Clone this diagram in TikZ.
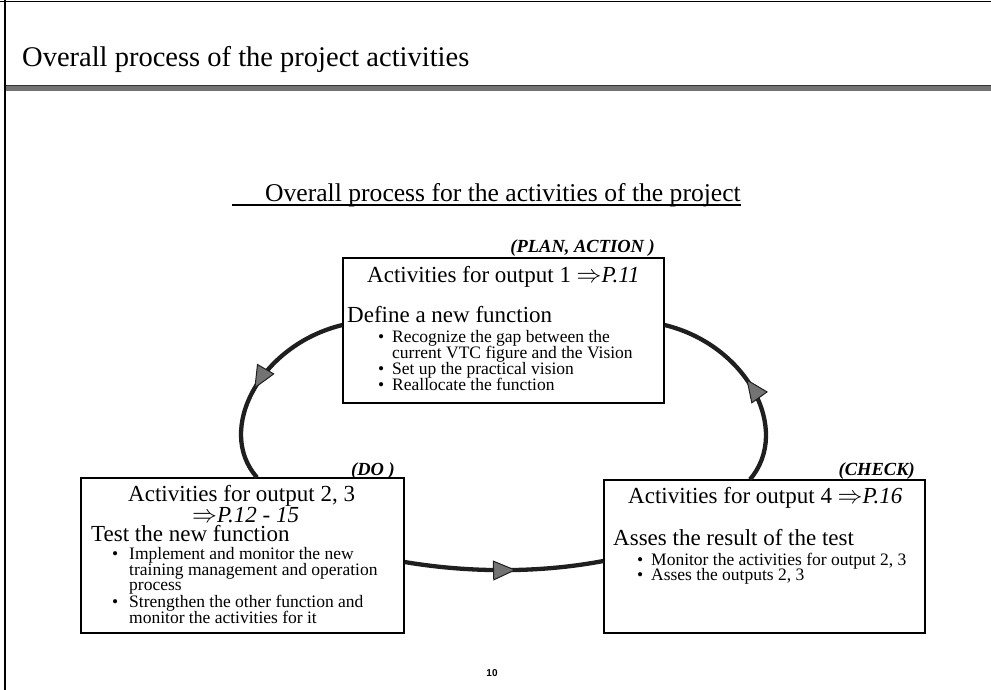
\documentclass[tikz,border=0pt]{standalone}
\usepackage{fontspec}
\setmainfont{Liberation Serif}
\newfontfamily\pagefont{Liberation Sans}
\usetikzlibrary{decorations.markings,arrows.meta,calc}

\begin{document}
\begin{tikzpicture}[x=1pt,y=-1pt,
  box/.style={draw=black,line width=1.2pt,fill=white,inner sep=0pt},
  txt/.style={inner sep=0pt,anchor=base west},
  hd/.style={txt,font=\fontsize{23}{23}\selectfont},
  item/.style={txt,font=\fontsize{17.5}{17.5}\selectfont},
  tag/.style={inner sep=0pt,anchor=base east,font=\fontsize{18.5}{18.5}\selectfont\bfseries\itshape},
  cyc/.style={line width=4.3pt,draw=black!88,postaction={decorate},
    decoration={markings,mark=at position #1 with {\arrow{Triangle[length=23pt,width=20pt,fill=black!55,line width=1pt]}}}}
]
\useasboundingbox (0,0) rectangle (991,690);

% slide frame and title band
\draw[line width=1.5pt] (0,1.5) -- (991,1.5);
\draw[line width=2.5pt] (5,0) -- (5,690);
\fill[black!55] (6,85) rectangle (991,91);
\draw[black!80,line width=0.8pt] (6,85) -- (991,85);
\node[txt,font=\fontsize{28.5}{28.5}\selectfont] (title) at (22,67) {Overall process of the project activities};

% subtitle
\node[txt,font=\fontsize{25.6}{25.6}\selectfont] (sub) at (265,201) {Overall process for the activities of the project};
\draw[line width=1.1pt] (232,205) -- (sub.base east |- 0,205);

% boxes
\node[box,minimum width=321pt,minimum height=145pt] (plan) at (503.5,330.5) {};
\node[box,minimum width=323pt,minimum height=155pt] (do) at (242.5,555.5) {};
\node[box,minimum width=321pt,minimum height=153pt] (check) at (764.5,556.5) {};

% cycle connectors
\draw[cyc=0.54] ($(plan.west)+(0,-5.5)$) .. controls (260,345) and (215,430) .. ($(do.north)+(14.5,0)$);
\draw[cyc=0.56] ($(do.east)+(0,6.5)$) .. controls (470,573) and (540,573) .. ($(check.west)+(0,4.5)$);
\draw[cyc=0.52] ($(check.north)+(-14.5,0)$) .. controls (792,430) and (747,345) .. ($(plan.east)+(0,-5.5)$);

% PLAN / ACTION box
\node[tag] (plantag) at (655,252) {(PLAN, ACTION )};
\node[hd] (planh) at (367,282) {Activities for output 1 $\Rightarrow$\textit{P.11}};
\node[hd] (plant) at (347,322) {Define a new function};
\node[item] (pb1) at (378,342) {\textbullet};
\node[item] (pl1) at (392,342) {Recognize the gap between the};
\node[item] (pl2) at (392,358) {current VTC figure and the Vision};
\node[item] (pb2) at (378,374) {\textbullet};
\node[item] (pl3) at (392,374) {Set up the practical vision};
\node[item] (pb3) at (378,390) {\textbullet};
\node[item] (pl4) at (392,390) {Reallocate the function};

% DO box
\node[tag] (dotag) at (395,475) {(DO )};
\node[hd] (doh1) at (128,501) {Activities for output 2, 3};
\node[hd] (doh2) at (192,522) {$\Rightarrow$\textit{P.12 - 15}};
\node[hd] (dot) at (91,541) {Test the new function};
\node[item] (db1) at (112,559) {\textbullet};
\node[item] (dl1) at (129,559) {Implement and monitor the new};
\node[item] (dl2) at (129,575) {training management and operation};
\node[item] (dl3) at (129,590) {process};
\node[item] (db2) at (112,607) {\textbullet};
\node[item] (dl4) at (129,607) {Strengthen the other function and};
\node[item] (dl5) at (129,623) {monitor the activities for it};

% CHECK box
\node[tag] (chtag) at (915,475) {(CHECK)};
\node[hd] (chh) at (628,503) {Activities for output 4 $\Rightarrow$\textit{P.16}};
\node[hd] (cht) at (613,545) {Asses the result of the test};
\node[item] (cb1) at (637,565) {\textbullet};
\node[item] (cl1) at (651,565) {Monitor the activities for output 2, 3};
\node[item] (cb2) at (637,580) {\textbullet};
\node[item] (cl2) at (651,580) {Asses the outputs 2, 3};

% page number
\node[inner sep=0pt,anchor=base,font=\pagefont\bfseries\fontsize{10}{10}\selectfont] (pageno) at (492,676) {10};
\end{tikzpicture}
\end{document}
